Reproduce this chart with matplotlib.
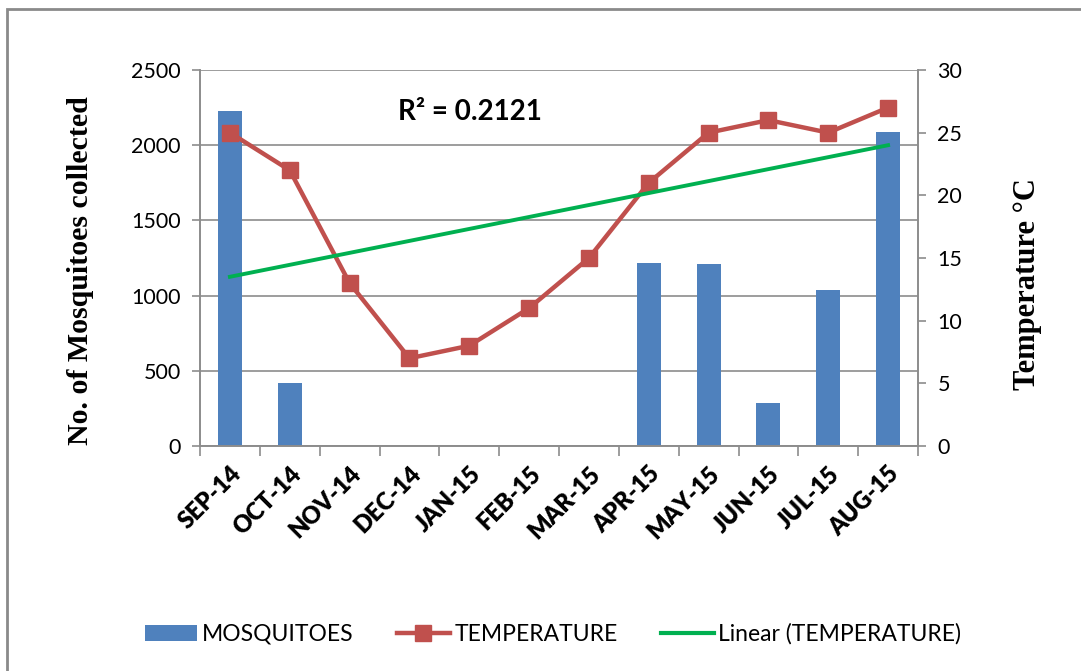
import matplotlib
matplotlib.use('Agg')
import matplotlib.pyplot as plt
import numpy as np
from matplotlib.lines import Line2D
from matplotlib.patches import Patch, Rectangle

BLUE = '#4F81BD'
RED = '#C0504D'
GREEN = '#00B050'
GRID = '#8C8C8C'
SANS = ['Lato', 'DejaVu Sans']
SERIF = ['Liberation Serif', 'DejaVu Serif']

months = ['SEP-14', 'OCT-14', 'NOV-14', 'DEC-14', 'JAN-15', 'FEB-15',
          'MAR-15', 'APR-15', 'MAY-15', 'JUN-15', 'JUL-15', 'AUG-15']
mosquitoes = [2225, 420, 0, 0, 0, 0, 0, 1220, 1210, 285, 1040, 2090]
temperature = [25, 22, 13, 7, 8, 11, 15, 21, 25, 26, 25, 27]

W, H = 1081, 671
fig = plt.figure(figsize=(W / 100, H / 100), dpi=100)
# outer chart-area border (only left and top visible)
fig.patches.append(Rectangle((7 / W, -0.1), 1.2, (H - 9) / H + 0.1, transform=fig.transFigure,
                             fill=False, edgecolor='#8A8A8A', linewidth=2))

ax = fig.add_axes([200 / W, 1 - 446 / H, 718 / W, 376 / H])
x = np.arange(len(months))
ax.bar(x, mosquitoes, width=0.4, color=BLUE, zorder=2)
ax.set_xlim(-0.5, len(months) - 0.5)
ax.set_ylim(0, 2500)
ax.set_yticks(range(0, 2501, 500))
ax.grid(axis='y', color=GRID, linewidth=1.2, zorder=0)

ax.set_xticks(x)
ax.set_xticklabels(months, rotation=45, ha='right', rotation_mode='anchor',
                   fontsize=17, fontweight='heavy', family=SANS)
ax.set_xticks(np.arange(-0.5, len(months)), minor=True)
ax.tick_params(axis='x', which='major', length=0, pad=12)
ax.tick_params(axis='x', which='minor', length=7, color=GRID, width=1.2)
ax.tick_params(axis='y', length=6, color=GRID, width=1.2, labelsize=15.5, pad=8)
for lab in ax.get_yticklabels():
    lab.set_family(SANS)
for s in ax.spines.values():
    s.set_color(GRID)
    s.set_linewidth(1.2)
ax.spines['top'].set_visible(False)

ax2 = ax.twinx()
ax2.set_ylim(0, 30)
ax2.set_yticks(range(0, 31, 5))
ax2.plot(x, temperature, color=RED, linewidth=3.2, marker='s', markersize=11, zorder=3)
slope, intercept = np.polyfit(x, temperature, 1)
trend = slope * x + intercept
ax2.plot(x, trend, color=GREEN, linewidth=2.8, zorder=4)
r2 = np.corrcoef(x, temperature)[0, 1] ** 2
ax2.tick_params(axis='y', length=6, color=GRID, width=1.2, labelsize=15.5, pad=8)
for lab in ax2.get_yticklabels():
    lab.set_family(SANS)
for s in ax2.spines.values():
    s.set_color(GRID)
    s.set_linewidth(1.2)
ax2.spines['top'].set_visible(False)

fig.text(81 / W, 1 - 271 / H, 'No. of Mosquitoes collected', rotation=90, ha='center',
         va='center', family=SERIF, fontweight='bold', fontsize=21.5)
fig.text(1027 / W, 1 - 284 / H, 'Temperature °C', rotation=90, ha='center',
         va='center', family=SERIF, fontweight='bold', fontsize=22)

fig.text(470 / W, 1 - 112 / H, f'R² = {r2:.4f}', ha='center', va='center',
         fontsize=20, fontweight='bold', family=SANS)

handles = [Patch(facecolor=BLUE, label='MOSQUITOES'),
           Line2D([], [], color=RED, linewidth=3.2, marker='s', markersize=11, label='TEMPERATURE'),
           Line2D([], [], color=GREEN, linewidth=3, label='Linear (TEMPERATURE)')]
fig.legend(handles=handles, loc='center', bbox_to_anchor=(553 / W, 1 - 634 / H), ncol=3,
           frameon=False, prop={'family': SANS, 'size': 16.5}, handlelength=2.3,
           columnspacing=1.9, handletextpad=0.2)

fig.savefig('out.png', dpi=100)
